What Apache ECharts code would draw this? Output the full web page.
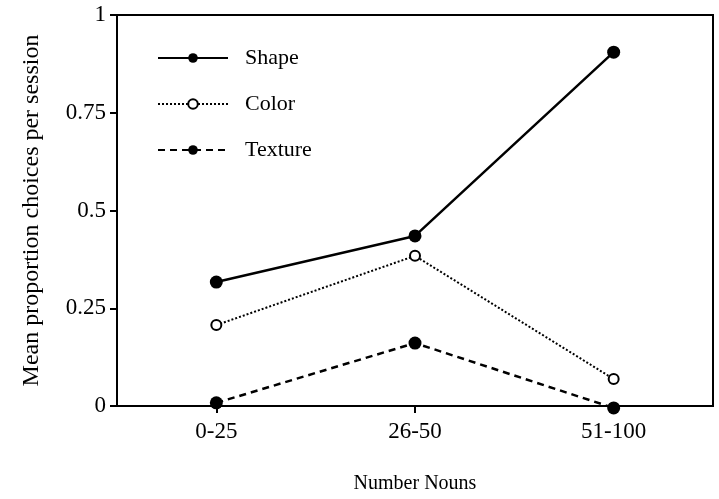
<!DOCTYPE html>
<html lang="en">
<head>
  <meta charset="UTF-8">
  <title>Mean proportion choices per session</title>
  <style>
    * { margin: 0; padding: 0; }
    #main { width: 719px; height: 499px; background: #fff; }
  </style>
</head>
<body>
  <div id="main"></div>
  <script src="https://cdn.jsdelivr.net/npm/echarts@6/dist/echarts.min.js"></script>
  <script>
    // categories on the x axis
    const nounGroups = ['0-25', '26-50', '51-100']
    // mean proportion per group
    const shapeVals = [0.317, 0.435, 0.905]
    const colorVals = [0.207, 0.384, 0.069]
    const textureVals = [0.008, 0.161, -0.005]
    const yTicks = [0, 0.25, 0.5, 0.75, 1]

    const font = 'Liberation Serif'
    const chart = echarts.init(document.getElementById('main'))

    const option = {
      animation: false,
      grid: {
        left: 117, right: 6, top: 15, bottom: 93,
        show: true, borderColor: '#000', borderWidth: 2
      },
      legend: {
        orient: 'vertical',
        left: 152,
        top: 42,
        itemWidth: 70,
        itemHeight: 12,
        itemGap: 24,
        textStyle: { fontFamily: font, fontSize: 22, color: '#000', padding: [0, 0, 0, 12] },
        data: ['Shape', 'Color', 'Texture']
      },
      xAxis: {
        type: 'category',
        data: nounGroups,
        boundaryGap: true,
        name: 'Number Nouns',
        nameLocation: 'middle',
        nameGap: 68,
        nameTextStyle: { fontFamily: font, fontSize: 20, color: '#000' },
        splitLine: { show: false },
        axisLine: { onZero: false, lineStyle: { color: '#000', width: 2 } },
        axisTick: { show: true, interval: 0, alignWithLabel: true, length: 7, lineStyle: { color: '#000', width: 2 } },
        axisLabel: {
          margin: 14,
          fontFamily: font, fontSize: 23, color: '#000'
        }
      },
      yAxis: {
        type: 'value',
        min: 0,
        max: 1,
        interval: 0.25,
        name: 'Mean proportion choices per session',
        nameLocation: 'middle',
        nameGap: 73,
        nameTextStyle: { fontFamily: font, fontSize: 24, color: '#000' },
        splitLine: { show: false },
        axisLine: { onZero: false, lineStyle: { color: '#000', width: 2 } },
        axisTick: { show: true, length: 7, lineStyle: { color: '#000', width: 2 } },
        axisLabel: {
          margin: 11,
          fontFamily: font, fontSize: 23, color: '#000',
          formatter: v => yTicks.includes(v) ? String(v) : ''
        }
      },
      series: [
        {
          name: 'Shape',
          type: 'line',
          data: shapeVals,
          clip: false,
          symbol: 'circle',
          symbolSize: 13,
          itemStyle: { color: '#000' },
          lineStyle: { color: '#000', width: 2.5, type: 'solid' }
        },
        {
          name: 'Color',
          type: 'line',
          data: colorVals,
          clip: false,
          symbol: 'emptyCircle',
          symbolSize: 10,
          itemStyle: { color: '#000', borderWidth: 2 },
          lineStyle: { color: '#000', width: 2, type: [2, 2] }
        },
        {
          name: 'Texture',
          type: 'line',
          data: textureVals,
          clip: false,
          symbol: 'circle',
          symbolSize: 13,
          itemStyle: { color: '#000' },
          lineStyle: { color: '#000', width: 2.5, type: [7, 5] }
        }
      ]
    }
    chart.setOption(option)
  </script>
</body>
</html>
